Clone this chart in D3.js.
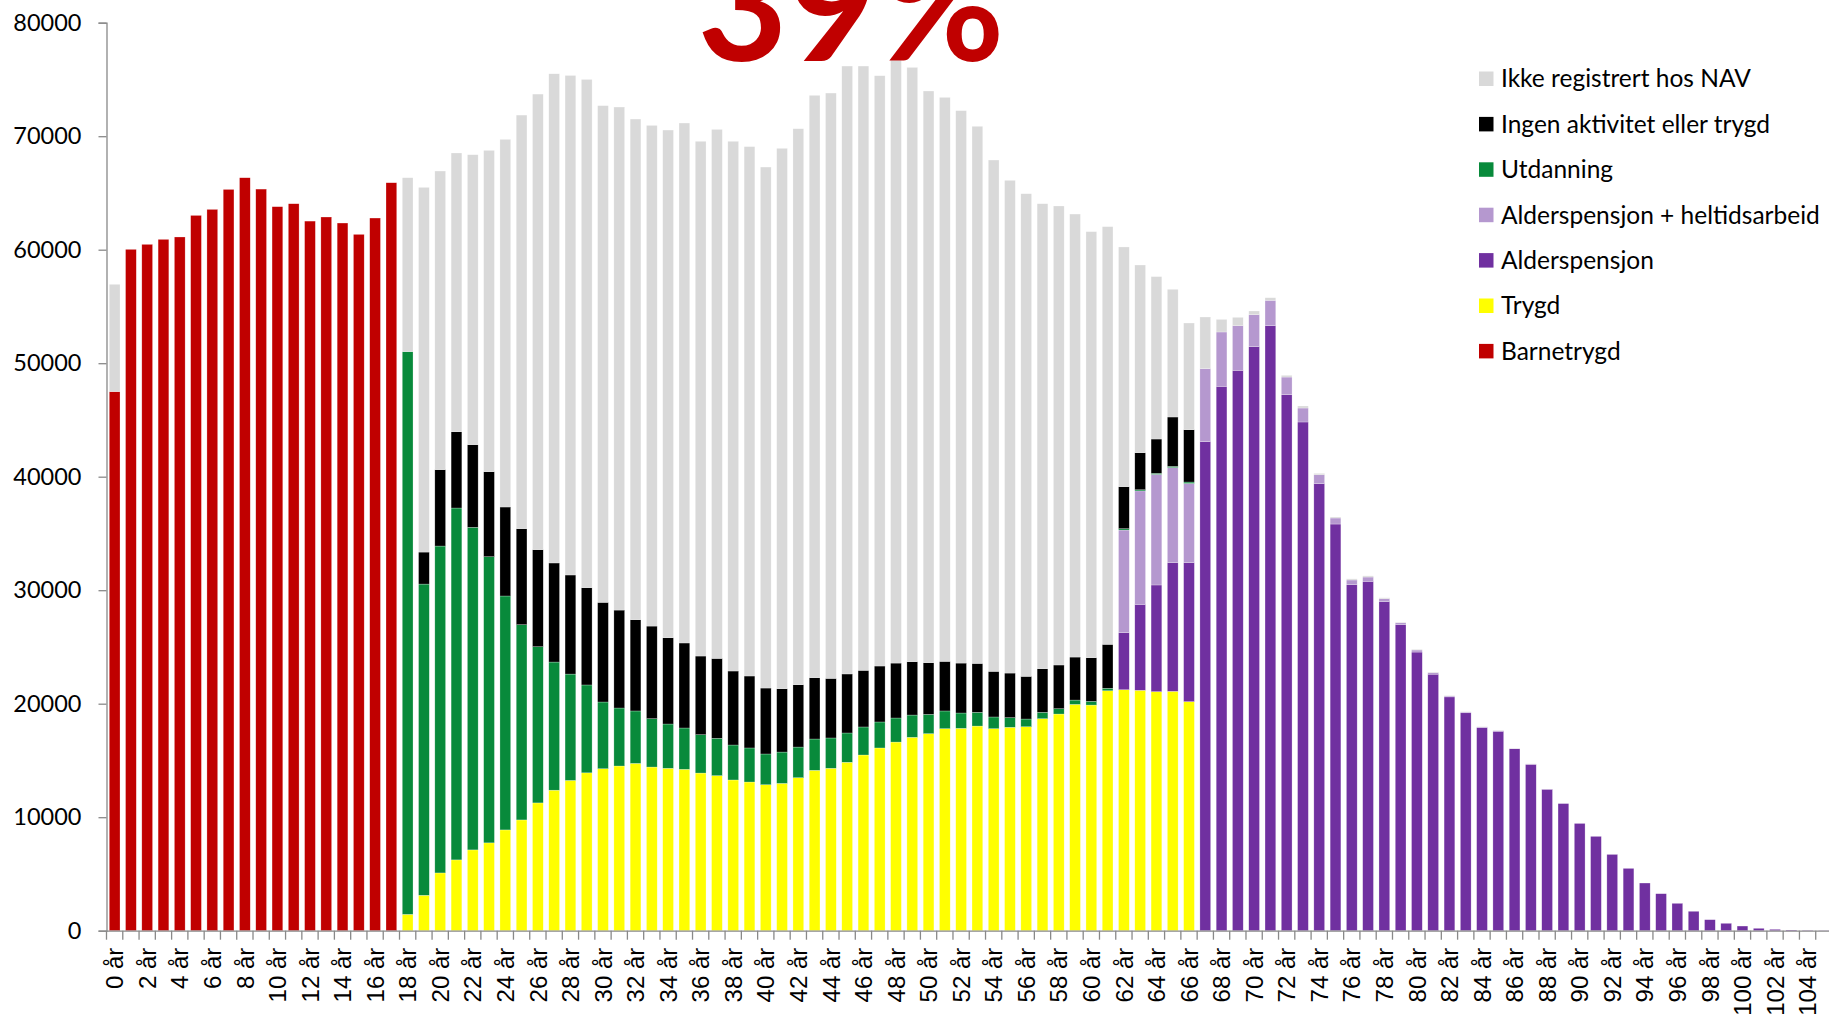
<!DOCTYPE html>
<html>
<head>
<meta charset="utf-8">
<script src="https://cdnjs.cloudflare.com/ajax/libs/d3/7.8.5/d3.min.js"></script>
<style>
    body { margin: 0; background: #fff; }
    #graphContainer { width: 1829px; height: 1017px; overflow: hidden; }
    svg { display: block; font-family: Lato, "Open Sans", sans-serif; }
</style>
</head>
<body>
<div id="graphContainer"></div>
<script>
// ages on the x axis, 0 år .. 105 år
var ages = d3.range(0, 106);
var yTicks = [0, 10000, 20000, 30000, 40000, 50000, 60000, 70000, 80000];

// one array per series, one value per age (persons)
var barnetrygd = [
    47500, 60030, 60470, 60910, 61120, 63020, 63550, 65310, 66340, 65340,
    63790, 64050, 62520, 62880, 62350, 61350, 62790, 65900, 0, 0,
    0, 0, 0, 0, 0, 0, 0, 0, 0, 0,
    0, 0, 0, 0, 0, 0, 0, 0, 0, 0,
    0, 0, 0, 0, 0, 0, 0, 0, 0, 0,
    0, 0, 0, 0, 0, 0, 0, 0, 0, 0,
    0, 0, 0, 0, 0, 0, 0, 0, 0, 0,
    0, 0, 0, 0, 0, 0, 0, 0, 0, 0,
    0, 0, 0, 0, 0, 0, 0, 0, 0, 0,
    0, 0, 0, 0, 0, 0, 0, 0, 0, 0,
    0, 0, 0, 0, 0, 0];

var trygd = [
    0, 0, 0, 0, 0, 0, 0, 0, 0, 0,
    0, 0, 0, 0, 0, 0, 0, 0, 1440, 3120,
    5090, 6240, 7120, 7740, 8880, 9760, 11260, 12380, 13240, 13910,
    14270, 14510, 14740, 14420, 14310, 14220, 13890, 13660, 13280, 13100,
    12860, 12980, 13480, 14130, 14310, 14840, 15480, 16100, 16620, 17040,
    17360, 17800, 17830, 18030, 17800, 17920, 17970, 18680, 19090, 19940,
    19880, 21140, 21230, 21180, 21060, 21090, 20180, 0, 0, 0,
    0, 0, 0, 0, 0, 0, 0, 0, 0, 0,
    0, 0, 0, 0, 0, 0, 0, 0, 0, 0,
    0, 0, 0, 0, 0, 0, 0, 0, 0, 0,
    0, 0, 0, 0, 0, 0];

var alderspensjon = [
    0, 0, 0, 0, 0, 0, 0, 0, 0, 0,
    0, 0, 0, 0, 0, 0, 0, 0, 0, 0,
    0, 0, 0, 0, 0, 0, 0, 0, 0, 0,
    0, 0, 0, 0, 0, 0, 0, 0, 0, 0,
    0, 0, 0, 0, 0, 0, 0, 0, 0, 0,
    0, 0, 0, 0, 0, 0, 0, 0, 0, 0,
    0, 0, 5030, 7570, 9400, 11330, 12240, 43080, 47960, 49370,
    51450, 53300, 47220, 44820, 39380, 35830, 30480, 30780, 28990, 26960,
    24550, 22600, 20600, 19200, 17900, 17570, 16030, 14660, 12460, 11200,
    9450, 8310, 6720, 5490, 4200, 3260, 2410, 1710, 970, 650,
    410, 210, 120, 60, 30, 20];

var heltidsarbeid = [
    0, 0, 0, 0, 0, 0, 0, 0, 0, 0,
    0, 0, 0, 0, 0, 0, 0, 0, 0, 0,
    0, 0, 0, 0, 0, 0, 0, 0, 0, 0,
    0, 0, 0, 0, 0, 0, 0, 0, 0, 0,
    0, 0, 0, 0, 0, 0, 0, 0, 0, 0,
    0, 0, 0, 0, 0, 0, 0, 0, 0, 0,
    0, 0, 9040, 10000, 9740, 8380, 6980, 6440, 4790, 3930,
    2820, 2240, 1560, 1230, 790, 530, 420, 380, 260, 170,
    180, 130, 80, 70, 50, 50, 40, 30, 20, 0,
    0, 0, 0, 0, 0, 0, 0, 0, 0, 0,
    0, 0, 0, 0, 0, 0];

var utdanning = [
    0, 0, 0, 0, 0, 0, 0, 0, 0, 0,
    0, 0, 0, 0, 0, 0, 0, 0, 49580, 27420,
    28800, 31000, 28420, 25210, 20610, 17200, 13760, 11290, 9370, 7740,
    5880, 5110, 4620, 4260, 3900, 3640, 3380, 3290, 3080, 3000,
    2710, 2760, 2700, 2760, 2670, 2580, 2470, 2290, 2120, 1960,
    1700, 1560, 1350, 1210, 1030, 850, 680, 560, 470, 380,
    330, 220, 120, 100, 100, 110, 130, 0, 0, 0,
    0, 0, 0, 0, 0, 0, 0, 0, 0, 0,
    0, 0, 0, 0, 0, 0, 0, 0, 0, 0,
    0, 0, 0, 0, 0, 0, 0, 0, 0, 0,
    0, 0, 0, 0, 0, 0];

var ingenAktivitet = [
    0, 0, 0, 0, 0, 0, 0, 0, 0, 0,
    0, 0, 0, 0, 0, 0, 0, 0, 0, 2820,
    6730, 6720, 7280, 7490, 7840, 8460, 8550, 8730, 8730, 8570,
    8780, 8630, 8040, 8160, 7600, 7490, 6930, 7040, 6520, 6340,
    5810, 5580, 5490, 5400, 5250, 5200, 4990, 4930, 4840, 4700,
    4550, 4370, 4400, 4310, 4020, 3930, 3760, 3840, 3850, 3790,
    3840, 3870, 3700, 3260, 3020, 4350, 4610, 0, 0, 0,
    0, 0, 0, 0, 0, 0, 0, 0, 0, 0,
    0, 0, 0, 0, 0, 0, 0, 0, 0, 0,
    0, 0, 0, 0, 0, 0, 0, 0, 0, 0,
    0, 0, 0, 0, 0, 0];

var ikkeRegistrert = [
    9450, 0, 0, 0, 0, 0, 0, 0, 0, 0,
    0, 0, 0, 0, 0, 0, 0, 0, 15320, 32130,
    26310, 24560, 25550, 28310, 32390, 36440, 40140, 43100, 44010, 44780,
    43760, 44320, 44110, 44110, 44730, 45810, 45350, 46610, 46670, 46640,
    45900, 47610, 48990, 51310, 51570, 53560, 53240, 52010, 53120, 52360,
    50370, 49690, 48670, 47320, 45050, 43410, 42520, 40970, 40440, 39030,
    37540, 36800, 21120, 16540, 14310, 11250, 9400, 4550, 1110, 740,
    330, 230, 150, 180, 120, 90, 100, 100, 80, 60,
    60, 50, 40, 30, 30, 30, 20, 20, 0, 0,
    0, 0, 0, 0, 0, 0, 0, 0, 0, 0,
    0, 0, 0, 0, 0, 0];

// stacking order bottom -> top
var seriesNames = ["Barnetrygd", "Trygd", "Alderspensjon", "Alderspensjon + heltidsarbeid",
    "Utdanning", "Ingen aktivitet eller trygd", "Ikke registrert hos NAV"];
var seriesValues = [barnetrygd, trygd, alderspensjon, heltidsarbeid, utdanning, ingenAktivitet, ikkeRegistrert];
var seriesColors = ["#C00000", "#FFFF00", "#7030A0", "#B598CF", "#088A3B", "#000000", "#D9D9D9"];

var titleText = "39%";

//set up drawingspace
var width = 1829,
    height = 1017,
    axisColor = "#898989";

var svg = d3.select("#graphContainer").append("svg")
    .attr("width", width)
    .attr("height", height);

// build the table that d3.stack wants
var table = ages.map(function (a, i) {
    var row = {age: a};
    seriesNames.forEach(function (name, s) {
        row[name] = seriesValues[s][i];
    });
    return row;
});

var stacked = d3.stack().keys(seriesNames)(table);

var x = d3.scaleBand()
    .domain(ages)
    .range([106.5, 1832])
    .paddingInner(0.34)
    .paddingOuter(0.17);

var y = d3.scaleLinear()
    .domain([0, 80000])
    .range([930.7, 22.7]);

var color = d3.scaleOrdinal().domain(seriesNames).range(seriesColors);

// bars
var layers = svg.append("g").attr("class", "bars")
    .selectAll("g")
    .data(stacked)
    .enter().append("g")
    .attr("fill", function (d) { return color(d.key); });

layers.selectAll("rect")
    .data(function (d) { return d.filter(function (p) { return p[1] - p[0] > 0; }); })
    .enter().append("rect")
    .attr("x", function (d) { return x(d.data.age); })
    .attr("width", x.bandwidth())
    .attr("y", function (d) { return y(d[1]); })
    .attr("height", function (d) { return y(d[0]) - y(d[1]); })
    .attr("stroke", "#fff")
    .attr("stroke-width", 0.5)
    .attr("stroke-opacity", 0.5);

// y axis
var yAxis = svg.append("g")
    .attr("transform", "translate(106.5,0)")
    .call(d3.axisLeft(y).tickValues(yTicks).tickFormat(d3.format("d")).tickSize(8).tickPadding(17));

yAxis.select(".domain").attr("stroke", axisColor).attr("stroke-width", 1.3);
yAxis.selectAll(".tick line").attr("stroke", axisColor).attr("stroke-width", 1.3);
yAxis.selectAll(".tick text")
    .attr("fill", "#000")
    .style("font-size", "23.5px")
    .style("font-family", "Lato, 'Open Sans', sans-serif");

// x axis, labels on every second age
var xAxis = svg.append("g")
    .attr("transform", "translate(0," + y(0) + ")")
    .call(d3.axisBottom(x)
        .tickValues(ages.filter(function (a) { return a % 2 === 0; }))
        .tickFormat(function (a) { return a + " år"; })
        .tickSize(0)
        .tickSizeOuter(0));

xAxis.select(".domain").attr("stroke", axisColor).attr("stroke-width", 1.3);
xAxis.selectAll(".tick text")
    .attr("fill", "#000")
    .attr("y", 0)
    .attr("x", -17)
    .attr("dy", "0.36em")
    .attr("transform", "rotate(-90)")
    .style("text-anchor", "end")
    .style("font-size", "24px")
    .style("font-family", "'Liberation Sans', Arial, sans-serif");

// tick marks sit on the category boundaries
var step = x.step();
xAxis.append("g").selectAll("line")
    .data(d3.range(0, ages.length + 1))
    .enter().append("line")
    .attr("x1", function (i) { return x.range()[0] + i * step; })
    .attr("x2", function (i) { return x.range()[0] + i * step; })
    .attr("y1", 0)
    .attr("y2", 9)
    .attr("stroke", axisColor)
    .attr("stroke-width", 1.3);

// legend, top entry is the top of the stack
var legendItems = seriesNames.slice().reverse();
var legend = svg.append("g").attr("class", "legend")
    .attr("transform", "translate(1479,78.5)");

var entry = legend.selectAll("g")
    .data(legendItems)
    .enter().append("g")
    .attr("transform", function (d, i) { return "translate(0," + (i * 45.4) + ")"; });

entry.append("rect")
    .attr("x", 0)
    .attr("y", -7)
    .attr("width", 14.5)
    .attr("height", 14.5)
    .attr("fill", function (d) { return color(d); });

entry.append("text")
    .attr("x", 22)
    .attr("y", 0)
    .attr("dy", "0.36em")
    .style("font-size", "24.5px")
    .attr("fill", "#000")
    .text(function (d) { return d; });

// big red percentage, cut at the top edge like the original
svg.append("text")
    .attr("x", 851)
    .attr("y", 61)
    .attr("text-anchor", "middle")
    .style("font-size", "155px")
    .style("font-weight", "bold")
    .attr("fill", "#C00000")
    .text(titleText);
</script>
</body>
</html>
